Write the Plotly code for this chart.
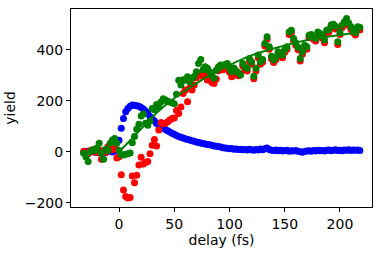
import plotly.graph_objects as go

# delay grid (fs)
delay = [
    -32, -30, -28, -26, -24, -22, -20, -18, -16, -14,
    -12, -10, -8, -6, -4, -2, 0, 2, 4, 6,
    8, 10, 12, 14, 16, 18, 20, 22, 24, 26,
    28, 30, 32, 34, 36, 38, 40, 42, 44, 46,
    48, 50, 52, 54, 56, 58, 60, 62, 64, 66,
    68, 70, 72, 74, 76, 78, 80, 82, 84, 86,
    88, 90, 92, 94, 96, 98, 100, 102, 104, 106,
    108, 110, 112, 114, 116, 118, 120, 122, 124, 126,
    128, 130, 132, 134, 136, 138, 140, 142, 144, 146,
    148, 150, 152, 154, 156, 158, 160, 162, 164, 166,
    168, 170, 172, 174, 176, 178, 180, 182, 184, 186,
    188, 190, 192, 194, 196, 198, 200, 202, 204, 206,
    208, 210, 212, 214, 216, 218,
]

yield_blue = [
    -3, 2, -5, 0, 4, -2, 3, -4, 1, 5,
    -3, 2, 6, -1, 4, 8, 45, 92, 130, 157,
    170, 178, 183, 182, 180, 178, 173, 168, 160, 150,
    138, 128, 120, 111, 104, 98, 92, 87, 82, 77,
    72, 68, 64, 60, 57, 54, 51, 48, 46, 43,
    41, 38, 36, 34, 32, 30, 28, 27, 25, 22,
    21, 20, 18, 16, 15, 14, 12, 13, 10, 11,
    9, 10, 8, 9, 7, 10, 8, 6, 9, 7,
    11, 8, 12, 15, 9, 6, 5, 7, 4, 6,
    3, 5, 6, 2, 4, 3, 5, 2, 0, -2,
    1, 3, 4, 2, 5, 3, 6, 4, 5, 3,
    6, 7, 4, 6, 8, 5, 6, 4, 7, 6,
    8, 5, 7, 6, 7, 5,
]

yield_red = [
    2, -4, -8, 5, 0, 10, -3, 6, -30, 4,
    -2, 20, 25, 8, 12, -25, -20, -90, -150, -176,
    -182, -180, -95, -122, -92, -52, -22, -48, -42, -38,
    -8, 25, 48, 22, 85, 115, 110, 112, 118, 124,
    130, 132, 162, 150, 175, 228, 242, 196, 250, 242,
    262, 290, 307, 300, 295, 302, 281, 290, 272, 268,
    285, 318, 328, 322, 330, 335, 312, 294, 318, 305,
    298, 305, 336, 322, 317, 356, 343, 286, 317, 369,
    343, 352, 415, 441, 402, 365, 350, 362, 382, 378,
    369, 390, 402, 460, 467, 434, 418, 400, 356, 382,
    408, 402, 447, 450, 441, 434, 460, 454, 445, 428,
    467, 470, 487, 490, 482, 421, 460, 487, 500, 513,
    495, 480, 468, 458, 480, 478,
]

yield_green = [
    -6, -20, -38, 0, 8, 5, 15, 33, -6, -30,
    10, 5, 33, 46, 52, 33, 5, -12, -13, -10,
    -8, -5, 35, 60, 88, 108, 140, 148, 112, 104,
    120, 170, 165, 185, 176, 195, 208, 203, 198, 195,
    192, 188, 225, 280, 262, 282, 280, 294, 275, 288,
    295, 314, 346, 362, 322, 333, 327, 314, 300, 288,
    320, 333, 340, 338, 342, 346, 327, 314, 328, 318,
    310, 301, 346, 333, 327, 366, 353, 296, 327, 379,
    353, 362, 425, 451, 412, 375, 360, 372, 392, 388,
    379, 400, 412, 470, 477, 444, 428, 410, 366, 392,
    418, 412, 457, 460, 451, 444, 470, 464, 455, 438,
    477, 480, 497, 500, 492, 431, 470, 497, 510, 523,
    505, 490, 478, 468, 490, 488,
]

# fitted curve
fit_delay = [0, 10, 20, 30, 40, 50, 60, 80, 100, 120, 140, 160, 180, 200, 218]
fit_yield = [0, 44, 90, 135, 175, 210, 240, 295, 340, 378, 405, 428, 446, 458, 470]

fig = go.Figure()
for ys, col in [(yield_blue, "#0000ff"), (yield_red, "#ff0000"), (yield_green, "#008000")]:
    fig.add_trace(go.Scatter(x=delay, y=ys, mode="markers",
                             marker=dict(color=col, size=7, line=dict(width=0)),
                             showlegend=False))
fig.add_trace(go.Scatter(x=fit_delay, y=fit_yield, mode="lines",
                         line=dict(color="#008000", width=2, shape="spline"),
                         showlegend=False))

axis_common = dict(showline=True, mirror=True, linecolor="black", linewidth=1,
                   ticks="outside", ticklen=4, tickcolor="black", tickwidth=1,
                   showgrid=False, zeroline=False, automargin=False,
                   tickfont=dict(family="DejaVu Sans", size=14, color="black"))

fig.update_layout(
    width=382, height=254,
    margin=dict(l=71, r=10, t=9, b=47),
    paper_bgcolor="white", plot_bgcolor="white",
    hovermode=False,
    xaxis=dict(range=[-43.5, 229], tickvals=[0, 50, 100, 150, 200],
               title=dict(text="delay (fs)", font=dict(family="DejaVu Sans", size=14, color="black"), standoff=4),
               **axis_common),
    yaxis=dict(range=[-217, 560], tickvals=[-200, 0, 200, 400],
               title=dict(text="yield", font=dict(family="DejaVu Sans", size=14, color="black"), standoff=5),
               **axis_common),
)

fig.write_html("out.html", config={"displayModeBar": False},
               post_script="document.body.style.margin='0';document.body.style.overflow='hidden';")
